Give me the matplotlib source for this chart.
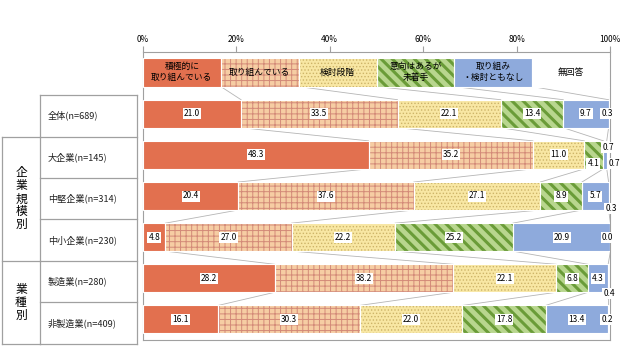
import numpy as np
import matplotlib.pyplot as plt

plt.rcParams['font.family'] = ['Noto Sans CJK JP', 'DejaVu Sans']

# data
rows = ['全体(n=689)', '大企業(n=145)', '中堅企業(n=314)', '中小企業(n=230)',
        '製造業(n=280)', '非製造業(n=409)']
groups = ['企\n業\n規\n模\n別', '業\n種\n別']
categories = ['積極的に\n取り組んでいる', '取り組んでいる', '検討段階',
              '意向はあるが\n未着手', '取り組み\n・検討ともなし', '無回答']

active = [21.0, 48.3, 20.4, 4.8, 28.2, 16.1]
doing = [33.5, 35.2, 37.6, 27.0, 38.2, 30.3]
considering = [22.1, 11.0, 27.1, 22.2, 22.1, 22.0]
not_started = [13.4, 4.1, 8.9, 25.2, 6.8, 17.8]
none = [9.7, 0.7, 5.7, 20.9, 4.3, 13.4]
no_answer = [0.3, 0.7, 0.3, 0.0, 0.4, 0.2]

series = [active, doing, considering, not_started, none, no_answer]

# styles: face, hatch colour, hatch, hatch linewidth
styles = [
    ('#E2704F', '#E2704F', None, 0.5),
    ('#F6CDA3', '#D38A78', '+++', 0.7),
    ('#F8E7A3', '#CDB468', '.....', 0.6),
    ('#B8D68E', '#6A9C38', '\\\\\\', 2.2),
    ('#8EAADC', '#8EAADC', None, 0.5),
    ('#FFFFFF', '#FFFFFF', None, 0.5),
]

# small labels placed outside their segment: (row, series) -> (x, dy)
special = {
    (0, 5): (99.4, 0.0),
    (1, 3): (96.4, 0.22),
    (1, 4): (99.6, -0.18),
    (1, 5): (100.9, 0.22),
    (2, 5): (100.2, 0.3),
    (3, 5): (99.4, 0.0),
    (4, 5): (99.8, 0.36),
    (5, 5): (99.4, 0.0),
}

fig = plt.figure(figsize=(6.4, 3.58), dpi=100)
ax = fig.add_axes([143 / 640, 1 - 340 / 358, 467 / 640, 288 / 358])

ypos = np.arange(len(rows)) + 1.5
leg_y = 0.49
bar_h = 0.68
leg_h = 0.70
n = len(categories)

left = np.zeros(len(rows))
leg_left = np.arange(n) * 100 / n
for k, (vals, (fc, hc, hatch, hlw)) in enumerate(zip(series, styles)):
    with plt.rc_context({'hatch.linewidth': hlw}):
        ax.barh(ypos, vals, bar_h, left=left, color=fc, edgecolor=hc,
                hatch=hatch, linewidth=0, zorder=2)
        ax.barh(leg_y, 100 / n, leg_h, left=leg_left[k], color=fc, edgecolor=hc,
                hatch=hatch, linewidth=0, zorder=2)
    ax.barh(ypos, vals, bar_h, left=left, fill=False, edgecolor='white',
            linewidth=0.8, zorder=3)
    ax.barh(leg_y, 100 / n, leg_h, left=leg_left[k], fill=False,
            edgecolor='white', linewidth=0.8, zorder=3)
    ax.text(leg_left[k] + 50 / n, leg_y, categories[k], ha='center', va='center',
            fontsize=6.3, linespacing=1.3, zorder=4)
    for i, v in enumerate(vals):
        if (i, k) in special:
            x, dy = special[(i, k)]
        else:
            x, dy = left[i] + v / 2, 0.0
        ax.text(x, ypos[i] + dy, f'{v:.1f}', ha='center', va='center',
                fontsize=6, zorder=5,
                bbox=dict(boxstyle='square,pad=0.12', fc='white', ec='none'))
    left = left + np.array(vals)

# connector lines between bars
cums = np.cumsum(np.array(series), axis=0)
prev = np.arange(1, n) * 100 / n
prev_y = leg_y + leg_h / 2
for i in range(len(rows)):
    cur = cums[:-1, i]
    for a, b in zip(prev, cur):
        ax.plot([a, b], [prev_y, ypos[i] - bar_h / 2], color='#B5B5B5',
                lw=0.6, zorder=1)
    prev = cur
    prev_y = ypos[i] + bar_h / 2

ax.set_xlim(0, 100)
ax.set_ylim(7.0, 0.0)
ax.set_yticks([])
ax.xaxis.tick_top()
ax.set_xticks(np.arange(0, 101, 20))
ax.set_xticklabels([f'{t}%' for t in range(0, 101, 20)], fontsize=6)
ax.tick_params(axis='x', length=4, width=0.8, color='#A0A0A0', pad=2)
for s in ax.spines.values():
    s.set_color('#A0A0A0')
    s.set_linewidth(0.8)

# left table
tab = fig.add_axes([0, 0, 1, 1], zorder=-1)
tab.set_xlim(0, 640)
tab.set_ylim(358, 0)
tab.axis('off')
edges = [94.7, 136.7, 178.3, 219.3, 261.0, 302.0, 344.0]
lc = '#A0A0A0'
for y in edges:
    tab.plot([40, 137], [y, y], color=lc, lw=0.9)
tab.plot([40, 40], [edges[0], edges[-1]], color=lc, lw=0.9)
tab.plot([137, 137], [edges[0], edges[-1]], color=lc, lw=0.9)
for y in [edges[1], edges[4], edges[6]]:
    tab.plot([2, 40], [y, y], color=lc, lw=0.9)
tab.plot([2, 2], [edges[1], edges[-1]], color=lc, lw=0.9)
for i, r in enumerate(rows):
    tab.text(48, (edges[i] + edges[i + 1]) / 2, r, ha='left', va='center',
             fontsize=6.6, color='#222222')
tab.text(21, (edges[1] + edges[4]) / 2, groups[0], ha='center', va='center',
         fontsize=8.5, linespacing=1.0)
tab.text(21, (edges[4] + edges[6]) / 2, groups[1], ha='center', va='center',
         fontsize=8.5, linespacing=1.0)

fig.savefig('out.png', dpi=100)
